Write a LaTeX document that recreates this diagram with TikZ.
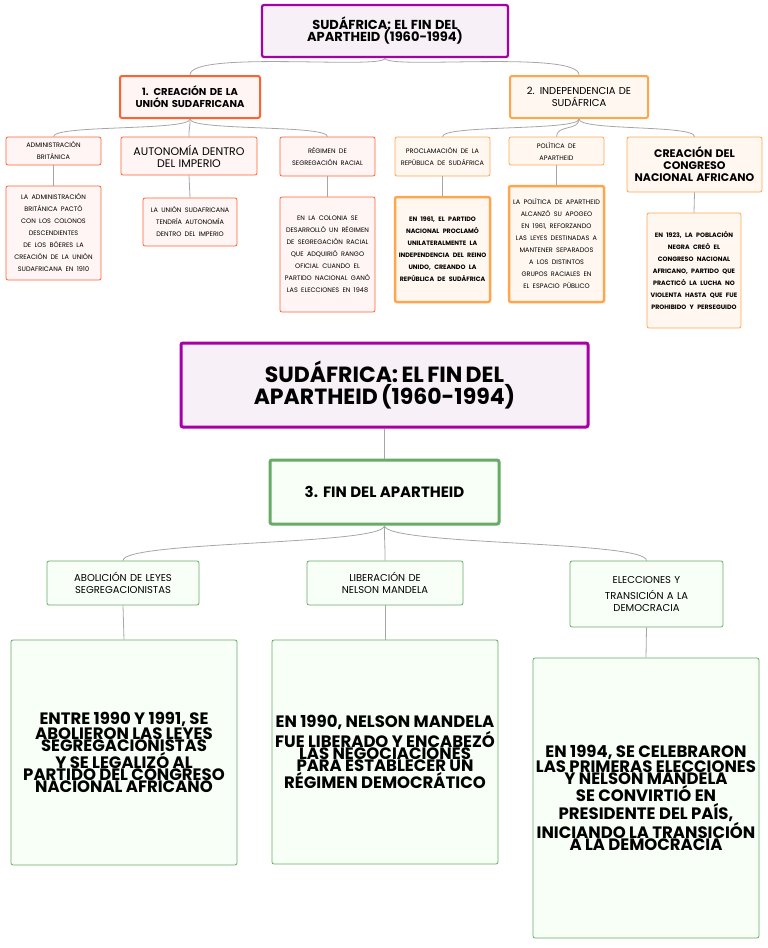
\documentclass[tikz,border=0pt]{standalone}
\usepackage{fontspec}
\setmainfont{Poppins}
\usetikzlibrary{calc}
\hyphenpenalty=10000
\exhyphenpenalty=10000
\begin{document}
\begin{tikzpicture}[x=1pt,y=-1pt,
 box/.style={rounded corners=2pt,align=center,inner sep=1pt,line width=0.8pt},
 con/.style={draw=gray!70,line width=0.8pt},
 purp/.style={box,draw=violet!70!magenta,fill=violet!6,line width=3pt},
 red/.style={box,draw=red!55!orange!80,fill=red!4},
 org/.style={box,draw=orange!70,fill=orange!6},
 grn/.style={box,draw=green!45!black!60,fill=green!3},
]
\useasboundingbox (0,0) rectangle (768,948);
\def\bx#1#2#3#4#5#6#7{\node[#2,minimum width=#5-#3,minimum height=#6-#4,text width=#5-#3-4] (#1) at ({(#3+#5)/2},{(#4+#6)/2}) {\hyphenpenalty=10000 #7};}
% top
\bx{t}{purp,line width=2.2pt}{262}{5}{508}{57}{\fontsize{13}{20}\selectfont\bfseries SUDÁFRICA: EL FIN DEL\\APARTHEID (1960-1994)}
\bx{a}{red,line width=2pt}{120}{76}{260}{118}{\fontsize{10}{15}\selectfont\bfseries 1. CREACIÓN DE LA\\UNIÓN SUDAFRICANA}
\bx{b}{org,line width=2pt}{510}{76}{648}{118}{\fontsize{10}{15}\selectfont 2. INDEPENDENCIA DE\\SUDÁFRICA}
\bx{a1}{red}{6}{137}{101}{165}{\fontsize{6.5}{11}\selectfont ADMINISTRACIÓN\\BRITÁNICA}
\bx{a2}{red}{121}{137}{257}{175}{\fontsize{11}{16}\selectfont AUTONOMÍA DENTRO\\DEL IMPERIO}
\bx{a3}{red}{280}{137}{375}{176}{\fontsize{6.5}{11}\selectfont RÉGIMEN DE\\SEGREGACIÓN RACIAL}
\bx{a1d}{red}{6}{186}{101}{280}{\fontsize{6.5}{11}\selectfont LA ADMINISTRACIÓN BRITÁNICA PACTÓ CON LOS COLONOS DESCENDIENTES DE LOS BÓERES LA CREACIÓN DE LA UNIÓN SUDAFRICANA EN 1910}
\bx{a2d}{red}{143}{198}{237}{246}{\fontsize{6.5}{11}\selectfont LA UNIÓN SUDAFRICANA TENDRÍA AUTONOMÍA DENTRO DEL IMPERIO}
\bx{a3d}{red}{280}{197}{375}{312}{\fontsize{6.5}{11}\selectfont EN LA COLONIA SE DESARROLLÓ UN RÉGIMEN DE SEGREGACIÓN RACIAL QUE ADQUIRIÓ RANGO OFICIAL CUANDO EL PARTIDO NACIONAL GANÓ LAS ELECCIONES EN 1948}
\bx{b1}{org}{395}{137}{490}{176}{\fontsize{6.5}{11}\selectfont PROCLAMACIÓN DE LA REPÚBLICA DE SUDÁFRICA}
\bx{b2}{org}{509}{137}{604}{165}{\fontsize{6.5}{11}\selectfont POLÍTICA DE\\APARTHEID}
\bx{b3}{org}{627}{137}{762}{192}{\fontsize{11}{16}\selectfont\bfseries CREACIÓN DEL CONGRESO NACIONAL AFRICANO}
\bx{b1d}{org,line width=2.5pt}{395}{197}{490}{302}{\fontsize{6.3}{11}\selectfont\bfseries EN 1961, EL PARTIDO NACIONAL PROCLAMÓ UNILATERALMENTE LA INDEPENDENCIA DEL REINO UNIDO, CREANDO LA REPÚBLICA DE SUDÁFRICA}
\bx{b2d}{org,line width=2.5pt}{509}{186}{604}{302}{\fontsize{6.5}{11}\selectfont LA POLÍTICA DE APARTHEID ALCANZÓ SU APOGEO EN 1961, REFORZANDO LAS LEYES DESTINADAS A MANTENER SEPARADOS A LOS DISTINTOS GRUPOS RACIALES EN EL ESPACIO PÚBLICO}
\bx{b3d}{org}{647}{213}{741}{328}{\fontsize{6.3}{11}\selectfont\bfseries EN 1923, LA POBLACIÓN NEGRA CREÓ EL CONGRESO NACIONAL AFRICANO, PARTIDO QUE PRACTICÓ LA LUCHA NO VIOLENTA HASTA QUE FUE PROHIBIDO Y PERSEGUIDO}
\draw[con] (t.south) .. controls (385,70) and (190,50) .. (a.north);
\draw[con] (t.south) .. controls (385,70) and (579,50) .. (b.north);
\foreach \p/\q in {a/a1,a/a2,a/a3,b/b1,b/b2,b/b3}
 \draw[con] (\p.south) .. controls ($(\p.south)+(0,12)$) and ($(\q.north)+(0,-12)$) .. (\q.north);
\foreach \p in {a1,a2,a3,b1,b2,b3} \draw[con] (\p.south) -- (\p d.north);
% bottom
\bx{T}{purp}{181}{343}{588}{427}{\fontsize{22}{34}\selectfont\bfseries SUDÁFRICA: EL FIN DEL\\APARTHEID (1960-1994)}
\bx{c}{grn,line width=3pt}{270}{460}{499}{524}{\fontsize{15}{20}\selectfont\bfseries 3. FIN DEL APARTHEID}
\bx{c1}{grn}{47}{561}{199}{605}{\fontsize{10}{16}\selectfont ABOLICIÓN DE LEYES SEGREGACIONISTAS}
\bx{c2}{grn}{307}{561}{463}{605}{\fontsize{10}{16}\selectfont LIBERACIÓN DE\\NELSON MANDELA}
\bx{c3}{grn}{570}{561}{723}{627}{\fontsize{10}{16}\selectfont ELECCIONES Y\\TRANSICIÓN A LA\\DEMOCRACIA}
\bx{c1d}{grn}{11}{640}{237}{865}{\fontsize{16.5}{27}\selectfont\bfseries ENTRE 1990 Y 1991, SE ABOLIERON LAS LEYES SEGREGACIONISTAS Y SE LEGALIZÓ AL PARTIDO DEL CONGRESO NACIONAL AFRICANO}
\bx{c2d}{grn}{272}{640}{498}{864}{\fontsize{16.5}{27}\selectfont\bfseries EN 1990, NELSON MANDELA FUE LIBERADO Y ENCABEZÓ LAS NEGOCIACIONES PARA ESTABLECER UN RÉGIMEN DEMOCRÁTICO}
\bx{c3d}{grn}{533}{658}{759}{938}{\fontsize{16.5}{27}\selectfont\bfseries EN 1994, SE CELEBRARON LAS PRIMERAS ELECCIONES Y NELSON MANDELA SE CONVIRTIÓ EN PRESIDENTE DEL PAÍS, INICIANDO LA TRANSICIÓN A LA DEMOCRACIA}
\draw[con] (T.south) -- (c.north);
\foreach \q in {c1,c2,c3}
 \draw[con] (c.south) .. controls ($(c.south)+(0,20)$) and ($(\q.north)+(0,-20)$) .. (\q.north);
\foreach \p in {c1,c2,c3} \draw[con] (\p.south) -- (\p d.north);
\end{tikzpicture}
\end{document}
